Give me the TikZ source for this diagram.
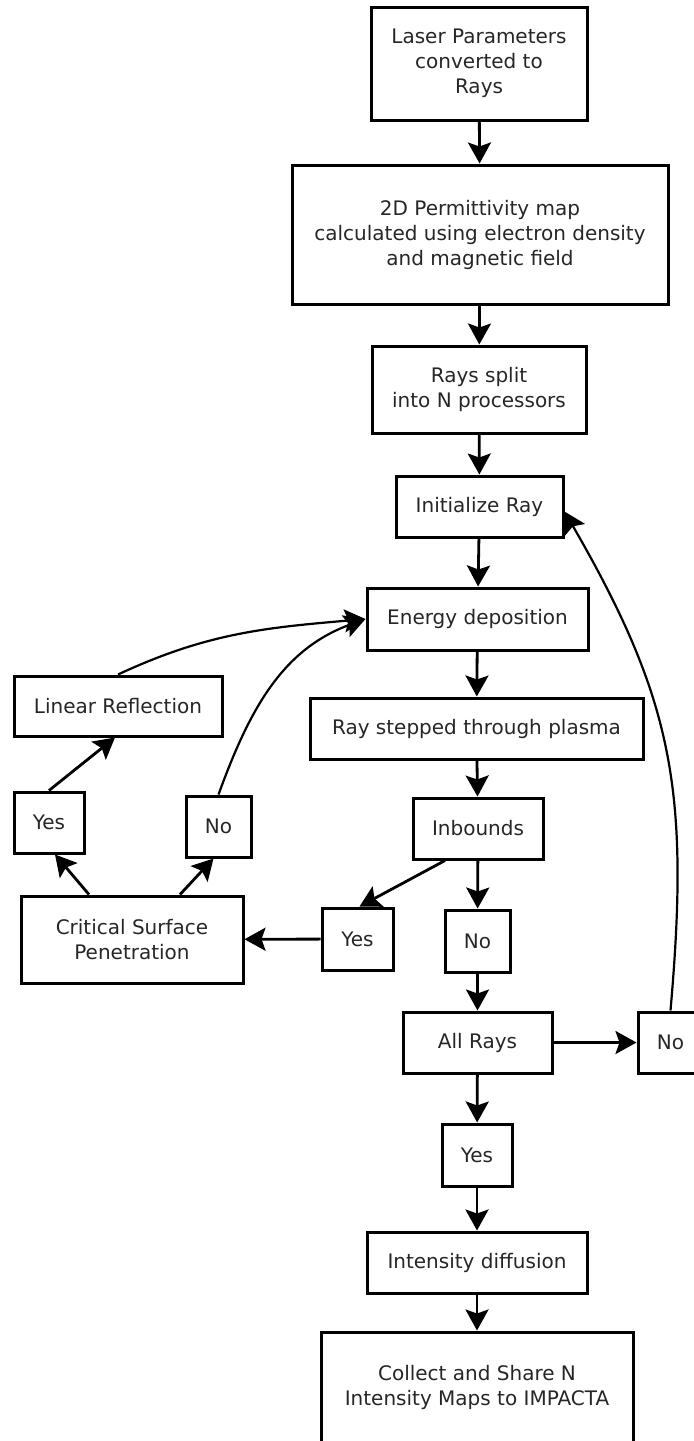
\documentclass[tikz,border=0pt]{standalone}
\usepackage{fontspec}
\setmainfont{DejaVu Sans}
\usetikzlibrary{arrows.meta}
\begin{document}
\begin{tikzpicture}[
  x=0.5pt,y=-0.5pt,
  box/.style={draw=black,line width=1.5pt,align=center,inner sep=0pt,
    font=\fontsize{10}{12.5}\selectfont,text=black!85},
  arrow/.style={draw=black,line width=1.4pt,-{Stealth[length=10.5pt,width=11.5pt,inset=2pt]}},
  curve/.style={arrow,line width=1.1pt},
]
\useasboundingbox (0,0) rectangle (693,1441);
\node[box,minimum width=108pt,minimum height=56.5pt] (laser) at (479,63.5) {Laser Parameters\\converted to\\Rays};
\node[box,minimum width=188pt,minimum height=69.5pt] (perm) at (480,234.5) {2D Permittivity map\\calculated using electron density\\and magnetic field};
\node[box,minimum width=107pt,minimum height=43.5pt] (split) at (479,389.5) {Rays split\\into N processors};
\node[box,minimum width=83.5pt,minimum height=30.5pt] (init) at (479.5,506.5) {Initialize Ray};
\node[box,minimum width=110.5pt,minimum height=31pt] (energy) at (477.5,619) {Energy deposition};
\node[box,minimum width=166.5pt,minimum height=30.5pt] (stepped) at (476.5,728.5) {Ray stepped through plasma};
\node[box,minimum width=65pt,minimum height=30.5pt] (inb) at (478,828.5) {Inbounds};
\node[box,minimum width=35.5pt,minimum height=31pt] (yesR) at (357.5,939) {Yes};
\node[box,minimum width=32.5pt,minimum height=31pt] (noM) at (477.5,941) {No};
\node[box,minimum width=74.5pt,minimum height=30.5pt] (allrays) at (477.5,1042.5) {All Rays};
\node[box,minimum width=32.5pt,minimum height=30.5pt] (noR) at (670.5,1042.5) {No};
\node[box,minimum width=35pt,minimum height=31pt] (yesB) at (477,1155) {Yes};
\node[box,minimum width=110pt,minimum height=30.5pt] (diff) at (477,1262.5) {Intensity diffusion};
\node[box,minimum width=156pt,minimum height=55.5pt] (collect) at (477,1387.5) {Collect and Share N\\Intensity Maps to IMPACTA};
\node[box,minimum width=111pt,minimum height=43.5pt] (csp) at (132,939.5) {Critical Surface\\Penetration};
\node[box,minimum width=104pt,minimum height=30pt] (linref) at (118,706) {Linear Reflection};
\node[box,minimum width=35pt,minimum height=30.5pt] (yesL) at (49,822.5) {Yes};
\node[box,minimum width=32.5pt,minimum height=30.5pt] (noL) at (218.5,826.5) {No};
\draw[arrow] (laser) -- (perm);
\draw[arrow] (perm) -- (split);
\draw[arrow] (split) -- (init);
\draw[arrow] (init) -- (energy);
\draw[arrow] (energy) -- (stepped);
\draw[arrow] (stepped) -- (inb);
\draw[arrow] (inb) -- (noM);
\draw[arrow] (noM) -- (allrays);
\draw[arrow] (allrays) -- (yesB);
\draw[arrow] (yesB) -- (diff);
\draw[arrow] (diff) -- (collect);
\draw[arrow] (allrays) -- (noR);
\draw[arrow] ([xshift=-16.5pt]inb.south) -- ([xshift=1pt]yesR.north);
\draw[arrow] (yesR) -- (csp);
\draw[arrow] ([xshift=-21.5pt]csp.north) -- ([xshift=3pt]yesL.south);
\draw[arrow] ([xshift=24pt]csp.north) -- ([xshift=-2.5pt]noL.south);
\draw[arrow] (yesL.north) -- ([xshift=-1.5pt]linref.south);
\draw[curve] (linref.north) to[out=25,in=185] (energy.west);
\draw[curve] (noL.north) to[out=70,in=200] (energy.west);
\draw[curve] (noR.north) to[out=85,in=-60,looseness=1.1] ([yshift=-2.5pt]init.east);
\end{tikzpicture}
\end{document}
